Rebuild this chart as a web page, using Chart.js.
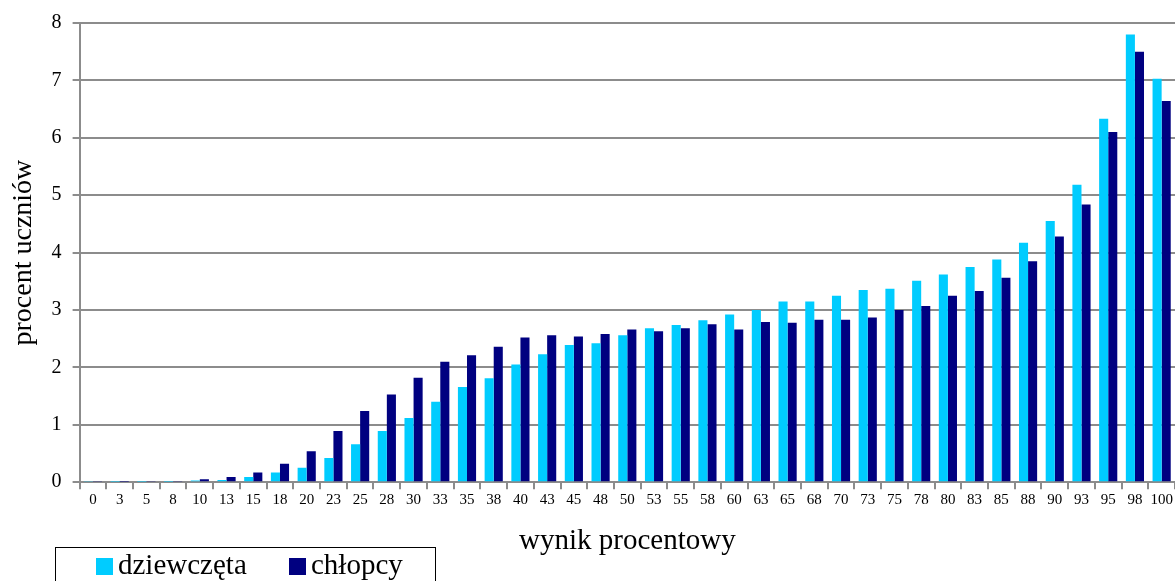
<!DOCTYPE html>
<html>
<head>
<meta charset="utf-8">
<script src="https://cdn.jsdelivr.net/npm/chart.js@4.4.1/dist/chart.umd.min.js"></script>
<style>
  html, body { margin: 0; padding: 0; background: #fff; }
  #wrap { width: 1175px; height: 581px; position: relative; }
</style>
</head>
<body>
<div id="wrap"><canvas id="chart"></canvas></div>
<script>
// wynik procentowy (categories)
const categories = ['0','3','5','8','10','13','15','18','20','23','25','28','30','33','35','38','40','43','45','48',
    '50','53','55','58','60','63','65','68','70','73','75','78','80','83','85','88','90','93','95','98','100'];

// procent uczniów
const girls = [0.02, 0.01, 0.01, 0.01, 0.03, 0.04, 0.09, 0.17, 0.25, 0.42, 0.66, 0.89, 1.12, 1.40, 1.66, 1.81,
    2.05, 2.23, 2.39, 2.42, 2.56, 2.68, 2.74, 2.82, 2.92, 3.00, 3.15, 3.15, 3.25, 3.35, 3.37, 3.51, 3.62, 3.75,
    3.88, 4.17, 4.55, 5.18, 6.33, 7.80, 7.03];
const boys = [0.02, 0.01, 0.02, 0.02, 0.05, 0.09, 0.17, 0.32, 0.54, 0.89, 1.24, 1.53, 1.82, 2.10, 2.21, 2.36,
    2.52, 2.56, 2.54, 2.58, 2.66, 2.63, 2.68, 2.75, 2.66, 2.79, 2.78, 2.83, 2.83, 2.87, 3.00, 3.07, 3.25, 3.33,
    3.56, 3.85, 4.28, 4.84, 6.10, 7.50, 6.64];

const yTicks = [0, 1, 2, 3, 4, 5, 6, 7, 8];

const FONT = "'Liberation Serif', 'Times New Roman', serif";
const GRID = '#8c8c8c';

// boxed legend at the bottom left, like the Excel original
const boxLegend = {
    id: 'boxLegend',
    afterDraw(chart) {
        const ctx = chart.ctx;
        ctx.save();
        ctx.strokeStyle = '#000';
        ctx.lineWidth = 1;
        ctx.strokeRect(55.5, 547.5, 380, 40);
        ctx.font = '29px ' + FONT;
        ctx.textBaseline = 'middle';
        const xs = [96, 289];
        chart.data.datasets.forEach((ds, i) => {
            ctx.fillStyle = ds.backgroundColor;
            ctx.fillRect(xs[i], 558, 17, 17);
            ctx.fillStyle = '#000';
            ctx.fillText(ds.label, xs[i] + 22, 566);
        });
        ctx.restore();
    }
};

new Chart(document.getElementById('chart'), {
    type: 'bar',
    data: {
        labels: categories,
        datasets: [
            { label: 'dziewczęta', data: girls, backgroundColor: '#00ccff' },
            { label: 'chłopcy', data: boys, backgroundColor: '#000080' }
        ]
    },
    options: {
        responsive: true,
        maintainAspectRatio: false,
        animation: false,
        layout: { padding: { top: 16, right: 0, bottom: 22, left: 7 } },
        plugins: {
            legend: { display: false },
            tooltip: { enabled: false }
        },
        datasets: {
            bar: { categoryPercentage: 0.68, barPercentage: 1.0 }
        },
        scales: {
            x: {
                grid: { drawOnChartArea: false, drawTicks: true, tickLength: 7, color: GRID, lineWidth: 2 },
                border: { color: GRID, width: 2 },
                ticks: { color: '#000', font: { family: FONT, size: 15 }, maxRotation: 0, autoSkip: false, padding: 2 },
                title: { display: true, text: 'wynik procentowy', color: '#000', font: { family: FONT, size: 29 }, padding: { top: 13, bottom: 0 } }
            },
            y: {
                min: 0,
                max: 8,
                afterBuildTicks: (axis) => { axis.ticks = yTicks.map(v => ({ value: v })); },
                grid: { color: GRID, lineWidth: 2, tickLength: 7 },
                border: { color: GRID, width: 2 },
                ticks: { color: '#000', font: { family: FONT, size: 20 }, padding: 11 },
                title: { display: true, text: 'procent uczniów', color: '#000', font: { family: FONT, size: 28 }, padding: { top: 0, bottom: 0 } }
            }
        }
    },
    plugins: [boxLegend]
});
</script>
</body>
</html>
